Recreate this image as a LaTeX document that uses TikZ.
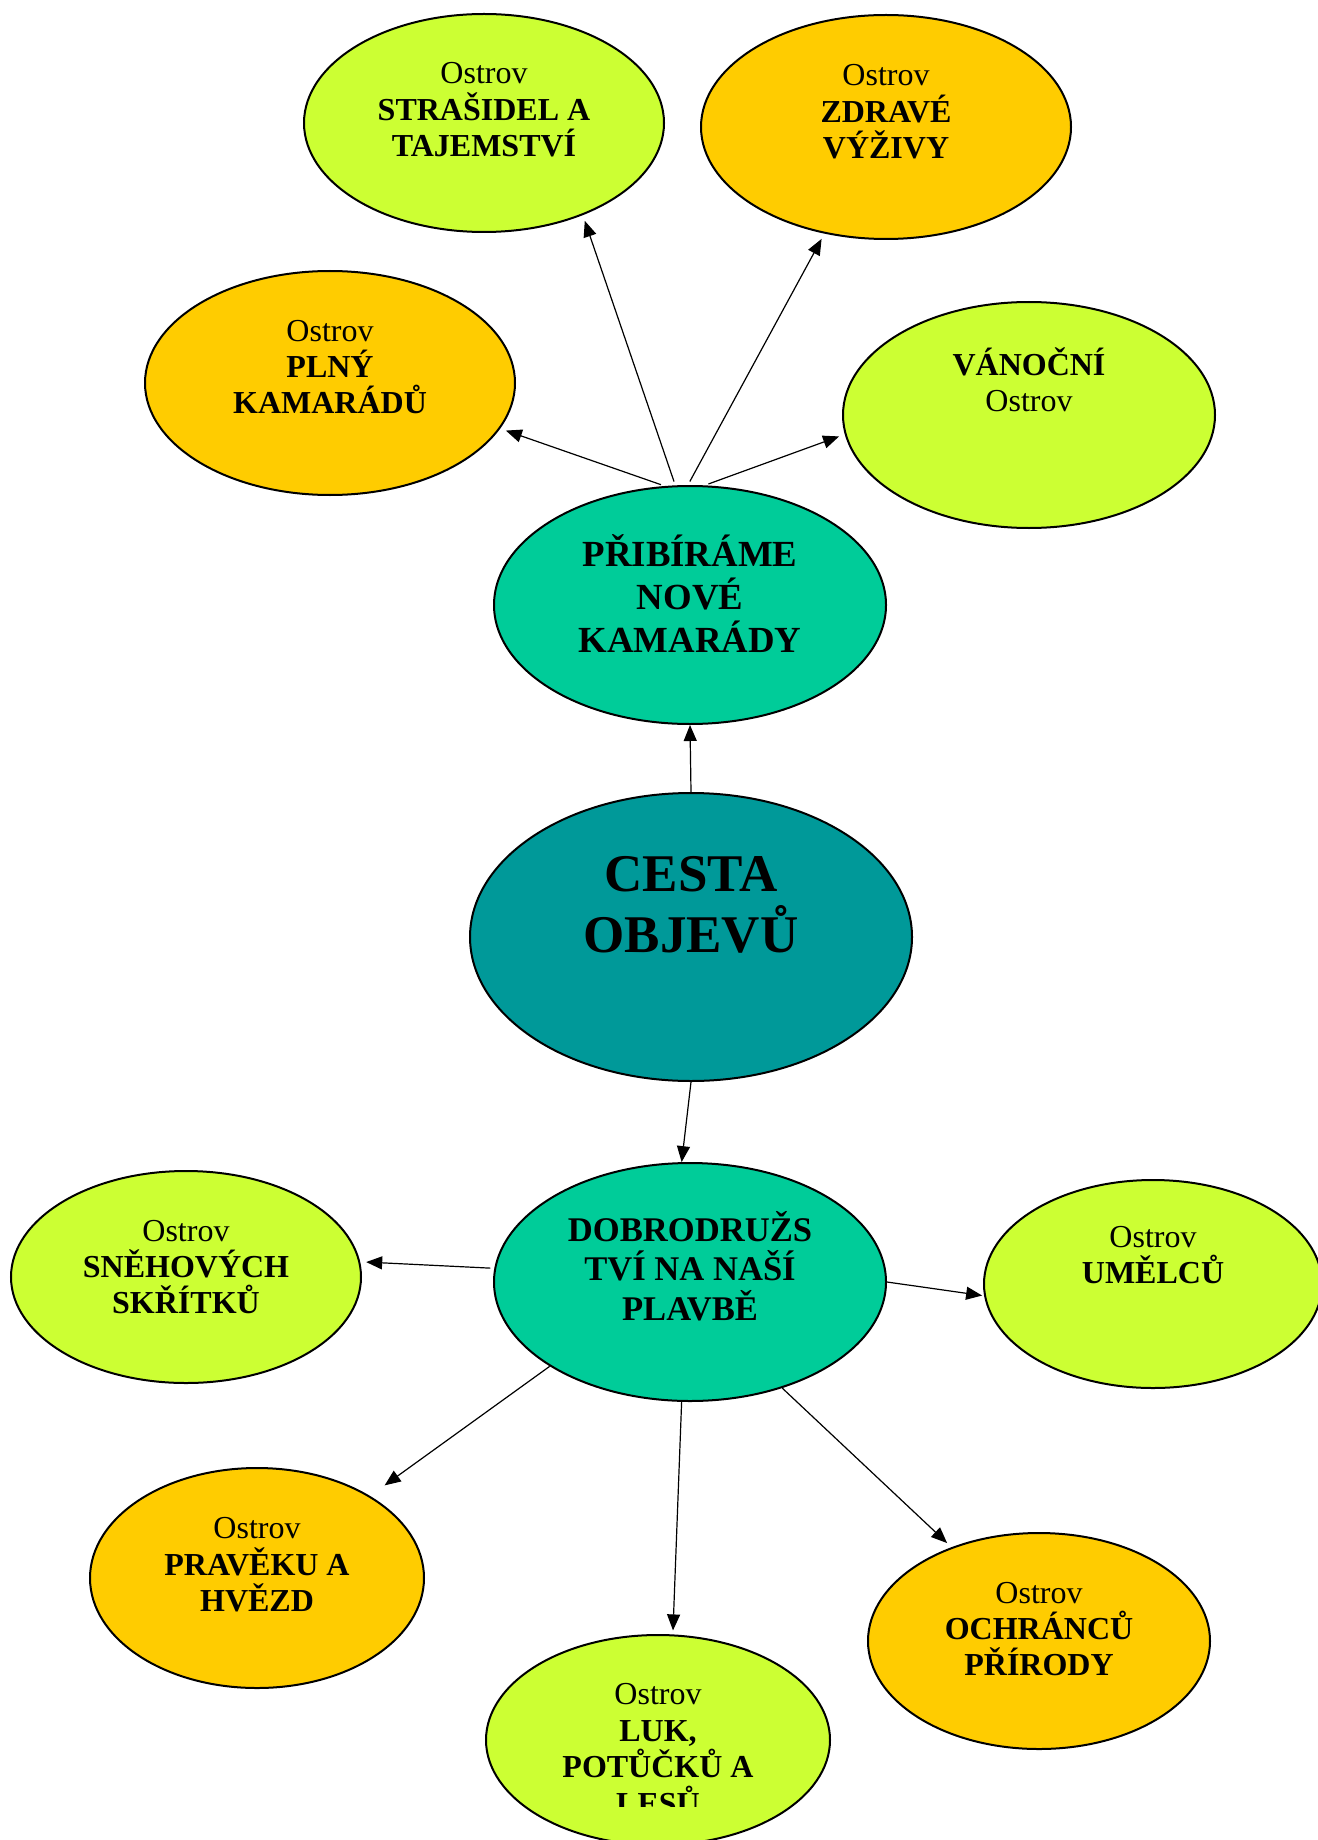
\documentclass[tikz,border=0pt]{standalone}
\usepackage{fontspec}
\setmainfont{Liberation Serif}
\usetikzlibrary{shapes.geometric,arrows.meta}

\begin{document}
\begin{tikzpicture}[x=0.5pt,y=0.5pt,yscale=-1,xscale=1,
  isle/.style={ellipse,draw,line width=1pt,inner sep=0pt},
  lime/.style={fill={rgb, 255:red, 204; green, 255; blue, 51 }},
  gold/.style={fill={rgb, 255:red, 255; green, 204; blue, 0 }},
  sea/.style={fill={rgb, 255:red, 0; green, 204; blue, 153 }},
  deep/.style={fill={rgb, 255:red, 0; green, 153; blue, 153 }},
  isletext/.style={align=center,inner sep=0pt,font=\fontsize{16}{18.2}\selectfont},
  link/.style={line width=0.6pt,-{Triangle[length=8pt,width=6.5pt]}},
  gaplink/.style={link,shorten <=2pt,shorten >=3pt}]
\useasboundingbox (0,0) rectangle (1317,1840);

%Shape: Ellipse - top islands
\node [isle,lime,minimum width=180pt,minimum height=109pt] (strasidel) at (484,123) {};
\node [isle,gold,minimum width=185pt,minimum height=112pt] (zdrave) at (886,127) {};
\node [isle,gold,minimum width=185pt,minimum height=112pt] (plny) at (330,383) {};
\node [isle,lime,minimum width=186pt,minimum height=113pt] (vanocni) at (1029,415) {};
%Shape: Ellipse - middle
\node [isle,sea,minimum width=196pt,minimum height=119pt] (pribirame) at (690,605) {};
\node [isle,deep,minimum width=221pt,minimum height=144pt] (cesta) at (691,937) {};
\node [isle,sea,minimum width=196pt,minimum height=119pt] (dobro) at (690,1282) {};
%Shape: Ellipse - bottom islands
\node [isle,lime,minimum width=175pt,minimum height=106pt] (snehovych) at (186,1277) {};
\node [isle,lime,minimum width=169pt,minimum height=104pt] (umelcu) at (1153,1284) {};
\node [isle,gold,minimum width=167pt,minimum height=110pt] (praveku) at (257,1578) {};
\node [isle,gold,minimum width=171pt,minimum height=108pt] (ochrancu) at (1039,1641) {};
\node [isle,lime,minimum width=172pt,minimum height=105pt] (luk) at (658,1740) {};

% Text Node
\node [isletext] (strasidel-t) at (484,110) {Ostrov\\\textbf{STRAŠIDEL A}\\\textbf{TAJEMSTVÍ}};
% Text Node
\node [isletext] (zdrave-t) at (886,112) {Ostrov\\\textbf{ZDRAVÉ}\\\textbf{VÝŽIVY}};
% Text Node
\node [isletext] (plny-t) at (330,367) {Ostrov\\\textbf{PLNÝ}\\\textbf{KAMARÁDŮ}};
% Text Node
\node [isletext] (vanocni-t) at (1029,380) {\textbf{VÁNOČNÍ}\\Ostrov};
% Text Node
\node [align=center,inner sep=0pt,font=\bfseries\fontsize{18.4}{21.5}\selectfont] (pribirame-t) at (690,594) {PŘIBÍRÁME\\NOVÉ\\KAMARÁDY};
% Text Node
\node [align=center,inner sep=0pt,font=\bfseries\fontsize{26.5}{30.5}\selectfont] (cesta-t) at (691,905) {CESTA\\OBJEVŮ};
% Text Node
\node [align=center,inner sep=0pt,font=\bfseries\fontsize{17.3}{19.7}\selectfont] (dobro-t) at (690,1266) {DOBRODRUŽS\\TVÍ NA NAŠÍ\\PLAVBĚ};
% Text Node
\node [isletext] (snehovych-t) at (186,1267) {Ostrov\\\textbf{SNĚHOVÝCH}\\\textbf{SKŘÍTKŮ}};
% Text Node
\node [isletext] (umelcu-t) at (1153,1255) {Ostrov\\\textbf{UMĚLCŮ}};
% Text Node
\node [isletext] (praveku-t) at (257,1565) {Ostrov\\\textbf{PRAVĚKU A}\\\textbf{HVĚZD}};
% Text Node
\node [isletext] (ochrancu-t) at (1039,1629) {Ostrov\\\textbf{OCHRÁNCŮ}\\\textbf{PŘÍRODY}};
% Text Node (cut off at the bottom)
\begin{scope}
\clip (450,1600) rectangle (870,1806);
\node [isletext] (luk-t) at (658,1749) {Ostrov\\\textbf{LUK,}\\\textbf{POTŮČKŮ A}\\\textbf{LESŮ}};
\end{scope}

%Straight Lines
\draw [gaplink] (pribirame.102) -- (plny.-15);
\draw [gaplink] (pribirame.97) -- (strasidel.-43);
\draw [gaplink] (pribirame.91) -- (zdrave.240);
\draw [gaplink] (pribirame.83) -- (vanocni.186);
\draw [link] (cesta.90) -- (pribirame.270);
\draw [link] (cesta.270) -- (dobro.94);
\draw [gaplink] (dobro.176) -- (snehovych.5);
\draw [link,shorten >=1pt] (dobro.0) -- (umelcu.184);
\draw [link,shorten >=9pt] (dobro.211) -- (praveku.36);
\draw [link,shorten >=2pt] (dobro.266) -- (luk.82);
\draw [link,shorten >=3pt] (dobro.311) -- (ochrancu.133);
\end{tikzpicture}
\end{document}
